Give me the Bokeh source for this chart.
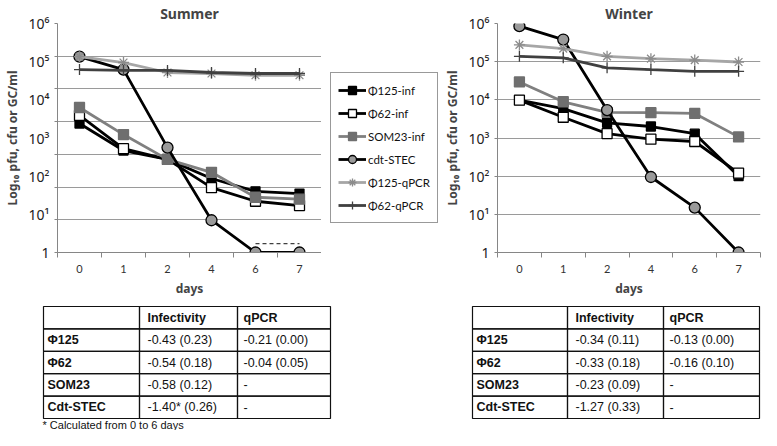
from bokeh.plotting import figure
from bokeh.models import Range1d, FixedTicker, Legend, LegendItem
from bokeh.layouts import row, column
from bokeh.embed import file_html
from bokeh.resources import INLINE
from bokeh.core.properties import value

# ---------------- data ----------------
days = ["0", "1", "2", "4", "6", "7"]
series_names = ["Φ125-inf", "Φ62-inf", "SOM23-inf", "cdt-STEC", "Φ125-qPCR", "Φ62-qPCR"]

summer_phi125_inf = [2400, 470, 275, 87, 40, 35]
summer_phi62_inf = [3900, 525, 275, 50, 22, 17]
summer_som23_inf = [6300, 1230, 275, 126, 28, 25]
summer_cdt_stec = [135000, 62000, 560, 7, 1, 1]
summer_phi125_qpcr = [135000, 95000, 52000, 49000, 44000, 44000]
summer_phi62_qpcr = [62000, 59000, 59000, 52000, 49000, 49000]
summer_limit_days = ["6", "7"]
summer_limit_values = [1.7, 1.7]

winter_phi125_inf = [9800, 5900, 2500, 2000, 1300, 100]
winter_phi62_inf = [9800, 3500, 1300, 930, 810, 120]
winter_som23_inf = [29500, 8900, 4700, 4600, 4400, 1070]
winter_cdt_stec = [850000, 380000, 5400, 95, 15, 1]
winter_phi125_qpcr = [275000, 219000, 138000, 120000, 110000, 98000]
winter_phi62_qpcr = [138000, 126000, 69000, 62000, 56000, 56000]

y_tick_values = [1, 10, 100, 1000, 10000, 100000, 1000000]
y_tick_labels = ["1", "10¹", "10²", "10³", "10⁴", "10⁵", "10⁶"]

table_rows = ["Φ125", "Φ62", "SOM23", "Cdt-STEC"]
table_header = ["", "Infectivity", "qPCR"]
summer_infectivity = ["-0.43 (0.23)", "-0.54 (0.18)", "-0.58 (0.12)", "-1.40* (0.26)"]
summer_qpcr = ["-0.21 (0.00)", "-0.04 (0.05)", "-", "-"]
winter_infectivity = ["-0.34 (0.11)", "-0.33 (0.18)", "-0.23 (0.09)", "-1.27 (0.33)"]
winter_qpcr = ["-0.13 (0.00)", "-0.16 (0.10)", "-", "-"]
footnote = "* Calculated from 0 to 6 days"

# ---------------- styles ----------------
styles = {
    "Φ125-inf": dict(line="#000000", marker="square", fill="#000000", mline="#000000", size=9),
    "Φ62-inf": dict(line="#000000", marker="square", fill="#ffffff", mline="#000000", size=10),
    "SOM23-inf": dict(line="#808080", marker="square", fill="#6f6f6f", mline="#6f6f6f", size=10),
    "cdt-STEC": dict(line="#000000", marker="circle", fill="#9a9a9a", mline="#000000", size=11),
    "Φ125-qPCR": dict(line="#a6a6a6", marker="asterisk", fill="#8c8c8c", mline="#8c8c8c", size=11),
    "Φ62-qPCR": dict(line="#404040", marker="cross", fill="#404040", mline="#404040", size=11),
}

CHART_FONT = "Lato"
NUM_FONT = "Noto Sans"
GRID_COLOR = "#9a9a9a"
AXIS_COLOR = "#868686"
TOP_H = 299

xpos = [i + 0.5 for i in range(len(days))]
xmap = dict(zip(days, xpos))


def add_series(p, name, xs, vals):
    st = styles[name]
    lr = p.line(xs, vals, line_color=st["line"], line_width=2.8)
    sr = p.scatter(xs, vals, marker=st["marker"], size=st["size"],
                   fill_color=st["fill"], line_color=st["mline"], line_width=1.3)
    return lr, sr


def make_chart(title, series, grid_ticks, minor_ticks, width, border_right):
    p = figure(width=width, height=TOP_H, output_backend="svg", toolbar_location=None,
               x_range=Range1d(0, len(days)), y_range=Range1d(1, 1e6), y_axis_type="log",
               min_border_left=53, min_border_right=border_right, min_border_top=23,
               min_border_bottom=43)
    p.outline_line_color = None

    p.title.text = title
    p.title.align = "center"
    p.title.text_font = NUM_FONT
    p.title.text_font_size = "14px"
    p.title.text_font_style = "bold"
    p.title.standoff = 2

    # x axis: category labels at centres, tick marks at boundaries
    p.xaxis.ticker = FixedTicker(ticks=xpos, minor_ticks=list(range(len(days) + 1)))
    p.xaxis.major_label_overrides = {x: d for x, d in zip(xpos, days)}
    p.xaxis.major_tick_out = 0
    p.xaxis.major_tick_in = 0
    p.xaxis.minor_tick_out = 5
    p.xaxis.minor_tick_in = 0
    p.xaxis.minor_tick_line_color = AXIS_COLOR
    p.xaxis.axis_line_color = AXIS_COLOR
    p.xaxis.major_label_text_font = CHART_FONT
    p.xaxis.major_label_text_font_size = "11px"
    p.xaxis.major_label_text_color = "#333333"
    p.xaxis.major_label_standoff = 7
    p.xaxis.axis_label = "days"
    p.xaxis.axis_label_text_font = NUM_FONT
    p.xaxis.axis_label_text_font_style = "bold"
    p.xaxis.axis_label_text_font_size = "12px"
    p.xaxis.axis_label_standoff = 4
    p.xgrid.visible = False

    # y axis
    p.yaxis.ticker = FixedTicker(ticks=y_tick_values, minor_ticks=minor_ticks)
    p.yaxis.major_label_overrides = {v: t for v, t in zip(y_tick_values, y_tick_labels)}
    p.yaxis.major_label_text_font = NUM_FONT
    p.yaxis.major_label_text_font_size = "14px"
    p.yaxis.major_label_text_color = "#222222"
    p.yaxis.major_label_standoff = 5
    p.yaxis.major_tick_in = 0
    p.yaxis.major_tick_out = 0 if minor_ticks else 3
    p.yaxis.major_tick_line_color = AXIS_COLOR
    p.yaxis.minor_tick_in = 0
    p.yaxis.minor_tick_out = 3
    p.yaxis.minor_tick_line_color = AXIS_COLOR
    p.yaxis.axis_line_color = AXIS_COLOR
    p.yaxis.axis_label = "Log₁₀ pfu, cfu or GC/ml"
    p.yaxis.axis_label_text_font = NUM_FONT
    p.yaxis.axis_label_text_font_style = "bold"
    p.yaxis.axis_label_text_font_size = "12px"
    p.yaxis.axis_label_standoff = 5
    p.ygrid.ticker = FixedTicker(ticks=grid_ticks)
    p.ygrid.grid_line_color = GRID_COLOR
    p.ygrid.grid_line_width = 1

    xs = [xmap[d] for d in days]
    for name, vals in zip(series_names, series):
        add_series(p, name, xs, vals)
    return p


summer_series = [summer_phi125_inf, summer_phi62_inf, summer_som23_inf,
                 summer_cdt_stec, summer_phi125_qpcr, summer_phi62_qpcr]
winter_series = [winter_phi125_inf, winter_phi62_inf, winter_som23_inf,
                 winter_cdt_stec, winter_phi125_qpcr, winter_phi62_qpcr]

summer_grid = [10 ** (6 * k / 7) for k in range(8)]
winter_grid = y_tick_values

ps = make_chart("Summer", summer_series, summer_grid, summer_grid, 321, 0)
ps.line([xmap[d] for d in summer_limit_days], summer_limit_values,
        line_color="#404040", line_width=1.3, line_dash="4 3")

# ---------------- legend panel ----------------
LEG_W = 119
pl = figure(width=LEG_W, height=TOP_H, output_backend="svg", toolbar_location=None,
            x_range=Range1d(0, 1), y_range=Range1d(0, 1),
            x_axis_type=None, y_axis_type=None, min_border=0)
pl.outline_line_color = None
pl.xgrid.visible = False
pl.ygrid.visible = False
items = []
for name in series_names:
    # placeholder points outside the visible range: only the legend swatches show
    lr, sr = add_series(pl, name, [5, 6], [5, 6])
    items.append(LegendItem(label=name, renderers=[lr, sr]))

legend = Legend(items=items, location=(9, 29))
legend.label_text_font = CHART_FONT
legend.label_text_font_size = "11.5px"
legend.label_text_color = "#111111"
legend.border_line_color = "#333333"
legend.border_line_width = 1
legend.background_fill_color = "white"
legend.background_fill_alpha = 1
legend.padding = 7
legend.spacing = 3
legend.margin = 0
legend.label_height = 20
legend.glyph_height = 20
legend.glyph_width = 28
legend.label_standoff = 2
pl.add_layout(legend, "center")

pw = make_chart("Winter", winter_series, winter_grid, [], 321, 1)

# ---------------- tables ----------------
TH = 131
pt = figure(width=761, height=TH, output_backend="svg", toolbar_location=None,
            x_range=Range1d(0, 761), y_range=Range1d(TH, 0),
            x_axis_type=None, y_axis_type=None, min_border=0)
pt.outline_line_color = None
pt.xgrid.visible = False
pt.ygrid.visible = False

row_edges = [7 + 22.4 * i for i in range(len(table_rows) + 2)]


def draw_table(col_edges, inf_vals, qpcr_vals):
    lefts, rights, tops, bottoms = [], [], [], []
    for r in range(len(row_edges) - 1):
        for c in range(len(col_edges) - 1):
            lefts.append(col_edges[c])
            rights.append(col_edges[c + 1])
            tops.append(row_edges[r])
            bottoms.append(row_edges[r + 1])
    pt.quad(left=lefts, right=rights, top=tops, bottom=bottoms,
            fill_color=None, line_color="#111111", line_width=1.2)
    mid = [(row_edges[i] + row_edges[i + 1]) / 2 for i in range(len(row_edges) - 1)]
    bx = [col_edges[1] + 8, col_edges[2] + 6] + [col_edges[0] + 4] * len(table_rows)
    by = [mid[0], mid[0]] + mid[1:]
    bt = table_header[1:] + table_rows
    pt.text(x=bx, y=by, text=bt, text_font=value("Liberation Sans"),
            text_font_size="12.5px", text_font_style="bold", text_baseline="middle",
            text_color="#111111")
    nx = [col_edges[1] + 8] * len(inf_vals) + [col_edges[2] + 6] * len(qpcr_vals)
    ny = mid[1:] + mid[1:]
    nt = inf_vals + qpcr_vals
    pt.text(x=nx, y=ny, text=nt, text_font=value("Liberation Sans"),
            text_font_size="12.5px", text_baseline="middle", text_color="#111111")


draw_table([43, 139, 237, 330], summer_infectivity, summer_qpcr)
draw_table([472, 567, 663, 759], winter_infectivity, winter_qpcr)
pt.text(x=[42], y=[row_edges[-1] + 6.5], text=[footnote], text_font=value("Liberation Sans"),
        text_font_size="11px", text_baseline="middle", text_color="#111111")

layout = column(row(ps, pl, pw), pt)
open("out.html", "w").write(file_html(layout, INLINE))
